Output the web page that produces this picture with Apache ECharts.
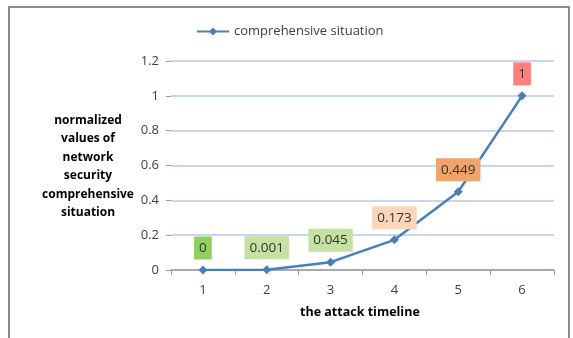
<!DOCTYPE html>
<html><head><meta charset="utf-8">
<script src="https://cdn.jsdelivr.net/npm/echarts@6/dist/echarts.min.js"></script>
<style>html,body{margin:0;padding:0;background:#fff}#c{width:573px;height:338px}</style>
</head><body><div id="c"></div>
<script>
const categories = ['1','2','3','4','5','6'];
const values = [0, 0.001, 0.045, 0.173, 0.449, 1];
const labelTexts = ['0','0.001','0.045','0.173','0.449','1'];
const labelColors = ['#92cf63','#c5e2a3','#c5e2a3','#fbd6b8','#efa46c','#ff7f7f'];
const seriesName = 'comprehensive situation';
const yName = 'normalized\nvalues of\nnetwork\nsecurity\ncomprehensive\nsituation';
const xName = 'the attack timeline';
const FONT = '"Open Sans", sans-serif';

const chart = echarts.init(document.getElementById('c'));
chart.setOption({
  animation: false,
  textStyle: {fontFamily: FONT},
  legend: {
    top: 20, left: 191, itemWidth: 32, itemHeight: 10, itemGap: 3,
    textStyle: {fontFamily: FONT, fontSize: 13, color: '#404040'},
    data: [seriesName]
  },
  grid: {left: 171, right: 19, top: 61, bottom: 68},
  xAxis: {
    type: 'category', data: categories, boundaryGap: true,
    axisLine: {lineStyle: {color: '#9a9a9a', width: 1.5}},
    axisTick: {show: true, length: 5, lineStyle: {color: '#9a9a9a'}},
    axisLabel: {fontFamily: FONT, fontSize: 13, color: '#404040', margin: 14}
  },
  yAxis: {
    type: 'value', min: 0, max: 1.2, interval: 0.2,
    axisLine: {show: false},
    axisTick: {show: true, length: 5, inside: false, lineStyle: {color: '#9a9a9a'}},
    axisLabel: {fontFamily: FONT, fontSize: 13, color: '#404040', margin: 12,
      formatter: v => String(Math.round(v*10)/10)},
    splitLine: {lineStyle: {color: '#b7c8ea', width: 1.5}}
  },
  graphic: [
    {type: 'rect', shape: {x: 9, y: 7, width: 560, height: 345},
      style: {fill: 'none', stroke: '#8c8c8c', lineWidth: 2}, silent: true},
    {type: 'text', left: 38, top: 111,
      style: {text: yName, fontFamily: FONT, fontSize: 12, fontWeight: 'bold',
        fill: '#000', textAlign: 'center', lineHeight: 18.5, width: 100}},
    {type: 'text', left: 300, top: 306,
      style: {text: xName, fontFamily: FONT, fontSize: 12.5, fontWeight: 'bold', fill: '#000'}}
  ],
  series: [{
    name: seriesName, type: 'line', data: values.map((v, i) => ({
      value: v,
      label: {show: true, position: 'top', distance: 6, formatter: labelTexts[i],
        backgroundColor: labelColors[i], padding: [5, 5, 5, 5], lineHeight: 13,
        fontFamily: FONT, fontSize: 13.5, color: '#333'}
    })),
    symbol: 'diamond', symbolSize: 9,
    lineStyle: {color: '#4a7ebb', width: 2.5},
    itemStyle: {color: '#4a7ebb'}
  }]
});
</script></body></html>
